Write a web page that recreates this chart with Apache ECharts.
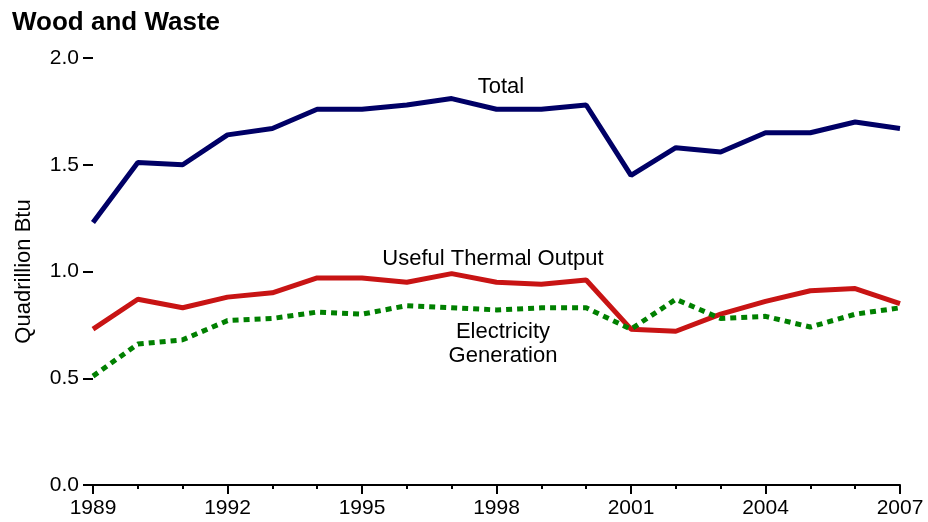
<!DOCTYPE html>
<html lang="en">
<head>
    <meta charset="UTF-8">
    <title>Wood and Waste</title>
</head>
<body style="margin:0">
<div id="main" style="width: 928px; height: 522px;"></div>

<script src="https://cdn.jsdelivr.net/npm/echarts@6/dist/echarts.min.js"></script>

<script>
var years = [1989, 1990, 1991, 1992, 1993, 1994, 1995, 1996, 1997, 1998,
             1999, 2000, 2001, 2002, 2003, 2004, 2005, 2006, 2007];
var total = [1.23, 1.51, 1.50, 1.64, 1.67, 1.76, 1.76, 1.78, 1.81, 1.76,
             1.76, 1.78, 1.45, 1.58, 1.56, 1.65, 1.65, 1.70, 1.67];
var thermal = [0.73, 0.87, 0.83, 0.88, 0.90, 0.97, 0.97, 0.95, 0.99, 0.95,
               0.94, 0.96, 0.73, 0.72, 0.80, 0.86, 0.91, 0.92, 0.85];
var electricity = [0.51, 0.66, 0.68, 0.77, 0.78, 0.81, 0.80, 0.84, 0.83, 0.82,
                   0.83, 0.83, 0.73, 0.87, 0.78, 0.79, 0.74, 0.80, 0.83];
var yTicks = ['0.0', '0.5', '1.0', '1.5', '2.0'];

function pairs(vals) {
    return years.map(function (y, i) { return [y, vals[i]]; });
}

var font = 'Liberation Sans, Arial, sans-serif';
var myChart = echarts.init(document.getElementById('main'));

myChart.setOption({
    animation: false,
    textStyle: {fontFamily: font},
    title: {
        text: 'Wood and Waste',
        left: 12,
        top: 10,
        padding: 0,
        textStyle: {fontSize: 26, fontWeight: 'bold', color: '#000', fontFamily: font, lineHeight: 26}
    },
    grid: {left: 93, right: 28, top: 58, bottom: 37, containLabel: false},
    xAxis: {
        type: 'value',
        min: 1989,
        max: 2007,
        interval: 3,
        axisLine: {show: true, lineStyle: {color: '#000', width: 2}},
        axisTick: {show: true, length: 9, lineStyle: {color: '#000', width: 2}},
        minorTick: {show: true, splitNumber: 3, length: 4, lineStyle: {color: '#000', width: 2}},
        splitLine: {show: false},
        axisLabel: {color: '#000', fontSize: 21, margin: 13, formatter: function (v) { return String(v); }}
    },
    yAxis: {
        type: 'value',
        min: 0,
        max: 2,
        interval: 0.5,
        name: 'Quadrillion Btu',
        nameLocation: 'middle',
        nameGap: 58,
        nameTextStyle: {color: '#000', fontSize: 22},
        axisLine: {show: false},
        axisTick: {show: true, length: 10, lineStyle: {color: '#000', width: 2}},
        splitLine: {show: false},
        axisLabel: {
            color: '#000', fontSize: 21, margin: 14,
            formatter: function (v) { return yTicks[Math.round(v / 0.5)]; }
        }
    },
    graphic: [
        {type: 'text', x: 501, y: 87, style: {text: 'Total', font: '22px ' + font, fill: '#000', align: 'center', verticalAlign: 'middle'}},
        {type: 'text', x: 493, y: 259, style: {text: 'Useful Thermal Output', font: '22px ' + font, fill: '#000', align: 'center', verticalAlign: 'middle'}},
        {type: 'text', x: 503, y: 344, style: {text: 'Electricity\nGeneration', font: '22px ' + font, fill: '#000', align: 'center', verticalAlign: 'middle', lineHeight: 24}}
    ],
    series: [
        {
            name: 'Total', type: 'line', data: pairs(total), showSymbol: false,
            lineStyle: {color: '#000066', width: 5}
        },
        {
            name: 'Useful Thermal Output', type: 'line', data: pairs(thermal), showSymbol: false,
            lineStyle: {color: '#c81414', width: 5}
        },
        {
            name: 'Electricity Generation', type: 'line', data: pairs(electricity), showSymbol: false,
            lineStyle: {color: '#008000', width: 5, type: [6, 5]}
        }
    ]
});
</script>
</body>
</html>
